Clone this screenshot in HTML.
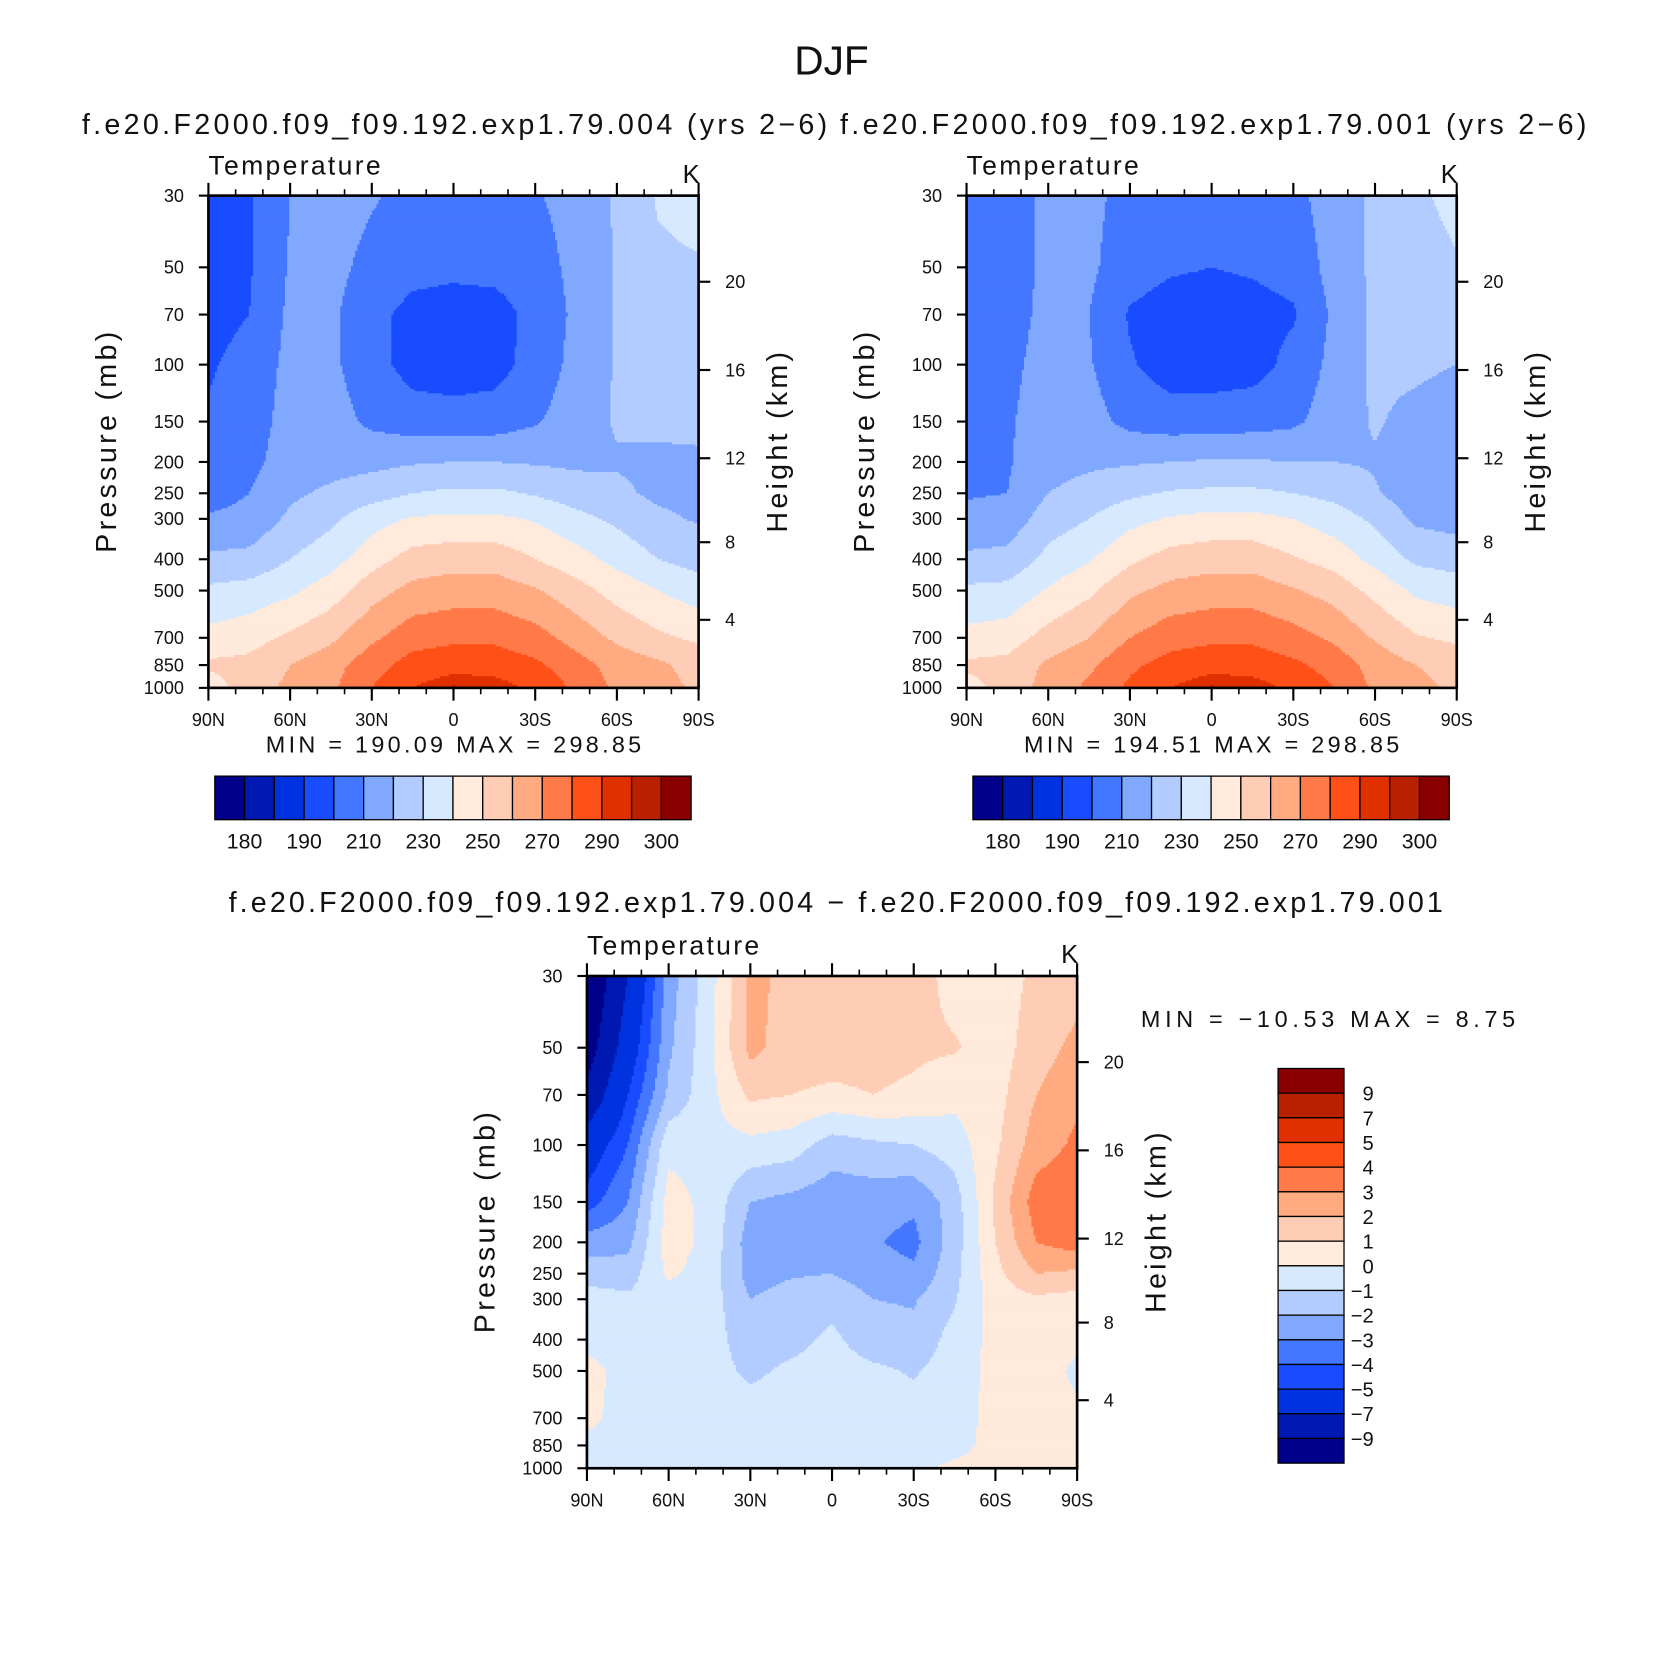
<!DOCTYPE html>
<html><head><meta charset="utf-8">
<style>
html,body{margin:0;padding:0;background:#fff;}
svg{display:block;font-family:"Liberation Sans",sans-serif;}
</style></head>
<body>
<svg id="root" xmlns="http://www.w3.org/2000/svg" width="1663" height="1666" viewBox="0 0 1564 1567" preserveAspectRatio="none">
<rect width="1564" height="1567" fill="#fff"/>
<text x="782" y="70" font-size="38" text-anchor="middle" fill="#111" textLength="70" lengthAdjust="spacingAndGlyphs">DJF</text>
<text x="77" y="126" font-size="27" fill="#111" textLength="701" lengthAdjust="spacing">f.e20.F2000.f09_f09.192.exp1.79.004 (yrs 2−6)</text>
<text x="790" y="126" font-size="27" fill="#111" textLength="702" lengthAdjust="spacing">f.e20.F2000.f09_f09.192.exp1.79.001 (yrs 2−6)</text>
<text x="215" y="858" font-size="27" fill="#111" textLength="1142" lengthAdjust="spacing">f.e20.F2000.f09_f09.192.exp1.79.004 − f.e20.F2000.f09_f09.192.exp1.79.001</text>
<g id="panels"></g>
</svg>
<script>
const lats = [90,75,60,45,30,15,0,-15,-30,-45,-60,-75,-90];
const levels = [30,50,70,100,150,200,250,300,400,500,700,850,1000];
const xTickLabels = ['90N','60N','30N','0','30S','60S','90S'];
const pTickLabels = [30,50,70,100,150,200,250,300,400,500,700,850,1000];
const heightTicks = [20,16,12,8,4];
const heightOffsets = [81,164,247,326,399];
const palette = ['#00008a','#0019b2','#0033e0','#1a4cff','#4477ff','#80a8ff','#b2ccff','#d6e9ff','#ffeadb','#ffccb5','#ffaa80','#ff7a48','#ff5018','#e03000','#b82000','#8a0000'];
const absLevels = [180,185,190,200,210,220,230,240,250,260,270,280,290,295,300];
const absLabels = ['180','190','210','230','250','270','290','300'];
const diffLevels = [-9,-7,-5,-4,-3,-2,-1,0,1,2,3,4,5,7,9];
const diffLabels = ['9','7','5','4','3','2','1','0','−1','−2','−3','−4','−5','−7','−9'];
// rows: latitude (90N..90S); columns: pressure 30..1000 mb
const tempA = [
[195,195,197,199,201,204,206,211,222,232,243,252,244],
[199,199,200,203,205,207,210,213,223,234,246,253,256],
[210,211,212,213,214,215,218,222,230,238,252,260,262],
[215,213,212,212,214,216,222,228,236,245,258,266,268],
[211,207,203,204,208,217,226,236,246,256,268,276,280],
[207,203,197,196,205,219,230,241,254,263,276,284,290],
[206,202,196,195,204,220,232,242,256,265,278,286,296],
[207,203,196,196,205,220,232,242,256,265,278,286,294],
[209,205,203,204,209,219,229,239,250,261,274,282,288],
[214,213,212,213,215,218,225,233,244,254,266,274,278],
[221,221,221,221,221,219,222,228,237,246,258,266,268],
[231,228,225,224,222,218,218,222,230,240,252,262,264],
[234,229,227,225,223,218,217,219,226,235,248,256,258]];
const tempB = [
[205,205,206,207,208,208,209,213,222,232,243,252,246],
[206,206,207,208,209,209,210,214,223,233,245,253,254],
[212,212,212,213,214,216,220,225,233,241,254,262,264],
[213,212,210,211,214,218,224,230,239,248,260,268,272],
[206,204,199,201,207,219,228,237,248,258,270,278,282],
[204,201,196,195,205,220,231,241,254,263,276,284,290],
[204,200,196,195,205,221,232,243,256,265,278,286,296],
[205,201,197,196,206,221,232,243,256,265,278,286,294],
[207,203,199,203,208,220,230,240,251,261,274,282,288],
[215,214,212,213,215,220,227,235,246,256,268,276,280],
[222,222,222,222,221,219,221,228,237,247,259,266,268],
[228,226,224,222,217,214,214,218,228,238,251,260,263],
[233,229,225,220,214,212,213,216,226,235,248,256,258]];
const tempDiff = [
[-11,-10,-8.5,-6,-4.5,-2.5,-1.5,-0.5,-0.3,0.3,0.3,-0.3,-0.3],
[-7,-6,-5,-4,-3,-2.3,-1.5,-0.8,-0.5,-0.3,-0.5,-0.5,-0.2],
[-2.5,-2.2,-1.8,-0.3,0.4,0.5,0.2,-0.5,-0.5,-0.5,-0.5,-0.5,-0.3],
[-0.4,-0.3,-0.3,-0.3,-0.3,-0.3,-0.5,-0.5,-0.6,-0.6,-0.5,-0.5,-0.3],
[2.2,2.3,1.2,-0.3,-2.0,-2.5,-2.4,-2.0,-1.5,-1.2,-0.5,-0.5,-0.2],
[1.8,1.5,1.0,-0.5,-2.3,-2.6,-2.1,-1.6,-1.3,-0.8,-0.5,-0.4,-0.2],
[1.6,1.5,0.8,-1.5,-2.6,-2.5,-2.0,-1.3,-0.8,-0.6,-0.5,-0.4,-0.2],
[1.6,1.4,1.0,-1.2,-2.6,-2.9,-2.5,-2.0,-1.5,-0.8,-0.5,-0.4,-0.2],
[1.5,1.2,0.8,-1.0,-2.8,-3.3,-2.8,-2.1,-1.7,-1.1,-0.6,-0.5,-0.2],
[0.6,1.1,0.3,-0.5,-1.5,-1.5,-1.3,-1.1,-0.6,-0.5,-0.4,-0.3,0.2],
[0.5,0.5,0.6,0.8,1.2,1.0,0.7,0.5,0.3,0.3,0.3,0.3,0.2],
[1.2,1.5,2.0,2.5,3.5,3.0,2.0,0.8,0.5,0.5,0.5,0.5,0.3],
[1.5,2.3,2.8,3.2,3.8,3.5,1.8,0.6,0.2,-0.2,0.2,0.3,0.3]];

const NS='http://www.w3.org/2000/svg';
const root=document.getElementById('panels');
const W=461,H=463,LT=Math.log10(30);
function mk(tag,attrs,parent){const e=document.createElementNS(NS,tag);for(const k in attrs)e.setAttribute(k,attrs[k]);(parent||root).appendChild(e);return e;}
function yOfP(py,p){return py+(Math.log10(p)-LT)/(3-LT)*H;}
function xOfLat(px,lat){return px+(90-lat)/180*W;}
function colorIdx(v,th){let c=0;for(const t of th)if(v>=t)c++;return c;}
function sample(grid,lat,p){
  let fi=(90-lat)/15;let i=Math.max(0,Math.min(Math.floor(fi),lats.length-2));let a=fi-i;
  const lp=Math.log10(p);let k=0;while(k<levels.length-2&&p>levels[k+1])k++;
  const l0=Math.log10(levels[k]),l1=Math.log10(levels[k+1]);let b=(lp-l0)/(l1-l0);
  b=Math.max(0,Math.min(1,b));
  const v00=grid[i][k],v01=grid[i][k+1],v10=grid[i+1][k],v11=grid[i+1][k+1];
  if([v00,v01,v10,v11].some(isNaN))return NaN;
  return (1-a)*((1-b)*v00+b*v01)+a*((1-b)*v10+b*v11);
}
function drawPanel(name,px,py,grid,th){
  const g=mk('g',{});
  
  
  const step=2;
  for(let y=py;y<py+H;y+=step){
    const p=Math.pow(10,LT+(y+step/2-py)/H*(3-LT));
    let runStart=px,runC=null;
    for(let x=px;x<px+W+step;x+=step){
      let c=null;
      if(x<px+W){const v=sample(grid,90-(x+step/2-px)/W*180,p);c=isNaN(v)?-1:colorIdx(v,th);}
      if(c!==runC){
        if(runC!==null&&runC>=0){
          const r=mk('rect',{x:runStart,y:y,width:Math.min(x,px+W)-runStart+0.6,height:Math.min(step+0.6,py+H-y),fill:palette[runC]},g);
          
          
        }
        runStart=x;runC=c;
      }
    }
  }
}
function drawAxes(prefix,px,py){
  const g=mk('g',{fill:'#111','font-size':17});
  
  
  mk('rect',{x:px,y:py,width:W,height:H,fill:'none',stroke:'#000','stroke-width':2.5},g);
  for(let d=0;d<=180;d+=10){
    const x=xOfLat(px,90-d);const maj=d%30===0;const L=maj?12:6;
    mk('line',{x1:x,y1:py,x2:x,y2:py-L,stroke:'#000','stroke-width':maj?2:1.5},g);
    mk('line',{x1:x,y1:py+H,x2:x,y2:py+H+L,stroke:'#000','stroke-width':maj?2:1.5},g);
  }
  xTickLabels.forEach((t,i)=>{const e=mk('text',{x:xOfLat(px,90-i*30),y:py+H+36,'text-anchor':'middle'},g);e.textContent=t;
    
    });
  pTickLabels.forEach(p=>{const y=yOfP(py,p);
    mk('line',{x1:px-9,y1:y,x2:px,y2:y,stroke:'#000','stroke-width':2},g);
    const e=mk('text',{x:px-23,y:y+6,'text-anchor':'end'},g);e.textContent=p;
    
    });
  heightTicks.forEach((h,i)=>{const y=py+heightOffsets[i];
    mk('line',{x1:px+W,y1:y,x2:px+W+11,y2:y,stroke:'#000','stroke-width':2},g);
    const e=mk('text',{x:px+W+25,y:y+6},g);e.textContent=h;
    
    });
  let e=mk('text',{x:px,y:py-20,'font-size':25,textLength:162,lengthAdjust:'spacing'},g);e.textContent='Temperature';
  
  
  e=mk('text',{x:px+W-15,y:py-12,'font-size':24},g);e.textContent='K';
  
  
  e=mk('text',{x:0,y:0,'font-size':27,'text-anchor':'middle',textLength:208,lengthAdjust:'spacing',transform:`translate(${px-87},${py+232}) rotate(-90)`},g);e.textContent='Pressure (mb)';
  
  
  e=mk('text',{x:0,y:0,'font-size':27,'text-anchor':'middle',textLength:170,lengthAdjust:'spacing',transform:`translate(${px+W+83},${py+232}) rotate(-90)`},g);e.textContent='Height (km)';
  
  
}
function hColorbar(name,x0,y0){
  const g=mk('g',{});
  
  
  const bw=28;
  palette.forEach((c,i)=>{const r=mk('rect',{x:x0+i*bw,y:y0,width:bw,height:41,fill:c,stroke:'#000','stroke-width':1.2},g);
    
    });
  absLabels.forEach((t,i)=>{const e=mk('text',{x:x0+bw*(1+2*i),y:y0+68,'font-size':20,'text-anchor':'middle',fill:'#111'},g);e.textContent=t;
    
    });
}
function vColorbar(name,x0,y0){
  const g=mk('g',{});
  
  
  const bh=23.2;
  palette.slice().reverse().forEach((c,i)=>{const r=mk('rect',{x:x0,y:y0+i*bh,width:62,height:bh,fill:c,stroke:'#000','stroke-width':1.2},g);
    
    });
  diffLabels.forEach((t,i)=>{const e=mk('text',{x:x0+90,y:y0+bh*(i+1)+7,'font-size':19,'text-anchor':'end',fill:'#111'},g);e.textContent=t;
    
    });
}
function txt(name,s,x,y,size,len){const e=mk('text',{x:x,y:y,'font-size':size,fill:'#111',textLength:len,lengthAdjust:'spacing'});e.textContent=s;
  
  }

drawPanel('left-contour-plot',196,184,tempA,absLevels);
drawAxes('left',196,184);
drawPanel('right-contour-plot',909,184,tempB,absLevels);
drawAxes('right',909,184);
drawPanel('diff-contour-plot',552,918,tempDiff,diffLevels);
drawAxes('diff',552,918);
hColorbar('left-colorbar',202,730);
hColorbar('right-colorbar',915,730);
vColorbar('diff-colorbar',1202,1005);
txt('left-min-max','MIN = 190.09 MAX = 298.85',250,708,22,353);
txt('right-min-max','MIN = 194.51 MAX = 298.85',963,708,22,353);
txt('diff-min-max','MIN = −10.53 MAX = 8.75',1073,966,22,352);
</script>
</body></html>
